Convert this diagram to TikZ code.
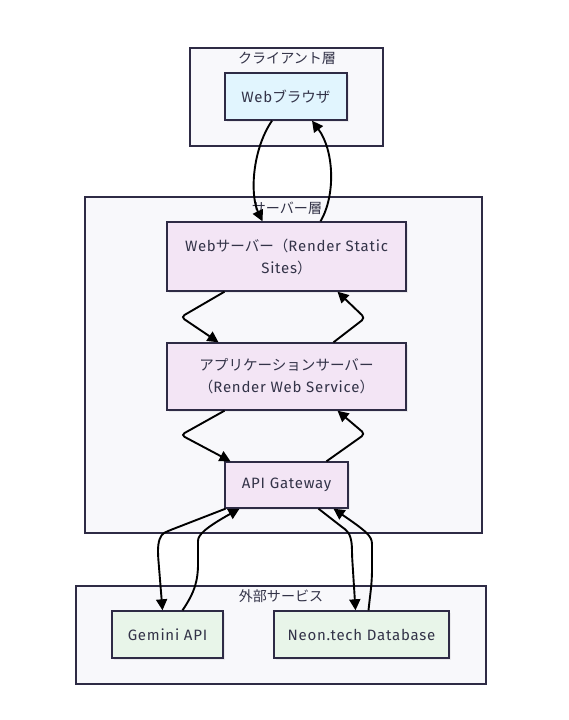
\documentclass[tikz,border=0pt]{standalone}
\usepackage{fontspec}
\setmainfont[LetterSpace=5]{Fira Sans}
\newfontfamily\jpfont[Scale=0.97]{Noto Sans CJK JP}
\newcommand{\jp}[1]{{\jpfont #1}}
\usetikzlibrary{arrows.meta,shadows}

\definecolor{inkline}{HTML}{2E2B45}
\definecolor{inktext}{HTML}{333348}
\definecolor{clusterfill}{HTML}{F8F8FB}
\definecolor{clientfill}{HTML}{E1F5FE}
\definecolor{serverfill}{HTML}{F3E5F5}
\definecolor{extfill}{HTML}{E8F5E9}

\tikzset{
  every picture/.style={line width=0.75pt},
  cluster/.style={draw=inkline,fill=clusterfill,line width=1.4pt,inner sep=0pt},
  tier/.style={draw=inkline,line width=1.4pt,inner sep=0pt,align=center,text=inktext,
    font=\fontsize{15}{22}\selectfont,
    drop shadow={opacity=0.12,shadow xshift=2pt,shadow yshift=-2pt}},
  clientnode/.style={tier,fill=clientfill},
  servernode/.style={tier,fill=serverfill},
  extnode/.style={tier,fill=extfill},
  title/.style={text=inktext,font=\fontsize{14.5}{16}\selectfont,inner sep=0pt},
  flow/.style={draw=black,line width=1.9pt,-{Triangle[length=11pt,width=11pt]},rounded corners=4pt}
}

\begin{document}
\begin{tikzpicture}[x=1pt,y=1pt,yscale=-1]
				\useasboundingbox (0,0) rectangle (568,720);
				%Shape: Rectangle [clusters]
				\node[cluster,minimum width=193pt,minimum height=98pt] (clientlayer) at (286.5,97) {};
				\node[cluster,minimum width=397pt,minimum height=336pt] (serverlayer) at (283.5,365) {};
				\node[cluster,minimum width=410pt,minimum height=98pt] (extlayer) at (281,635) {};
				\node[title] (clienttitle) at (287,58) {\jp{クライアント層}};
				\node[title] (servertitle) at (287,208) {\jp{サーバー層}};
				\node[title] (exttitle) at (281,596) {\jp{外部サービス}};
				%Shape: Rectangle [nodes]
				\node[clientnode,minimum width=122pt,minimum height=47pt] (browser) at (286,96.5) {Web\jp{ブラウザ}};
				\node[servernode,minimum width=239pt,minimum height=69pt] (websrv) at (286.5,256.5) {Web\jp{サーバー（}Render Static\\Sites\jp{）}};
				\node[servernode,minimum width=239pt,minimum height=67pt] (appsrv) at (286.5,376.5) {\jp{アプリケーションサーバー}\\\jp{（}Render Web Service\jp{）}};
				\node[servernode,minimum width=123pt,minimum height=46pt] (gateway) at (286.5,485) {API Gateway};
				\node[extnode,minimum width=111pt,minimum height=47pt] (gemini) at (167.5,634.5) {Gemini API};
				\node[extnode,minimum width=175pt,minimum height=47pt] (neon) at (361.5,634.5) {Neon.tech Database};
				%Curve Lines [browser <-> web server]
				\draw[flow] ([xshift=-14pt]browser.south) .. controls (252,150) and (250,195) .. ([xshift=-24pt]websrv.north);
				\draw[flow] ([xshift=34pt]websrv.north) .. controls (336,195) and (334,150) .. ([xshift=26pt]browser.south);
				%Straight Lines [web server <-> app server]
				\draw[flow] ([xshift=-62pt]websrv.south) -- (181,317) -- ([xshift=-68pt]appsrv.north);
				\draw[flow] ([xshift=47pt]appsrv.north) -- (365,318) -- ([xshift=51pt]websrv.south);
				%Straight Lines [app server <-> gateway]
				\draw[flow] ([xshift=-62pt]appsrv.south) -- (181,435) -- ([xshift=-56pt]gateway.north);
				\draw[flow] ([xshift=40pt]gateway.north) -- (365,434) -- ([xshift=51pt]appsrv.south);
				%Curve Lines [gateway <-> external]
				\draw[flow] ([xshift=-61pt]gateway.south) -- (168,531) .. controls (160,535) and (158,542) .. (158,555) -- ([xshift=-5pt]gemini.north);
				\draw[flow] ([xshift=15pt]gemini.north) .. controls (195,592) and (198,580) .. (198,560) -- (198,545) .. controls (198,535) and (205,528) .. ([xshift=-47pt]gateway.south);
				\draw[flow] ([xshift=32pt]gateway.south) -- (342,527) .. controls (350,533) and (352,540) .. (352,555) -- ([xshift=-6pt]neon.north);
				\draw[flow] ([xshift=7pt]neon.north) .. controls (370,595) and (372,585) .. (372,565) -- (372,548) .. controls (372,536) and (366,531) .. ([xshift=47pt]gateway.south);
			\end{tikzpicture}
\end{document}
